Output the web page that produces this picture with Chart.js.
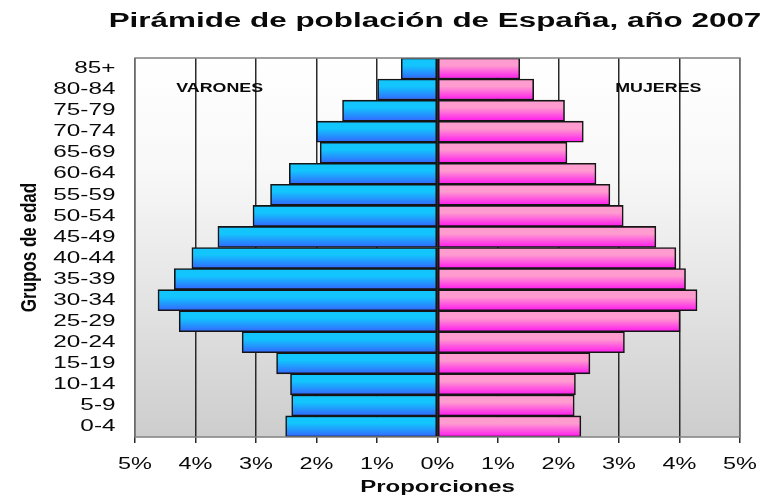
<!DOCTYPE html>
<html>
<head>
<meta charset="utf-8">
<title>Pirámide de población de España, año 2007</title>
<script src="https://cdn.jsdelivr.net/npm/chart.js@4"></script>
<style>
  body { margin: 0; background: #fff; }
</style>
</head>
<body>
<canvas id="pyramid" width="776" height="497"></canvas>
<script>
// Age groups, youngest first
const ageGroups = ['0-4', '5-9', '10-14', '15-19', '20-24', '25-29', '30-34', '35-39', '40-44',
  '45-49', '50-54', '55-59', '60-64', '65-69', '70-74', '75-79', '80-84', '85+'];

// Share of the total population in each group (%)
const varones = [2.51, 2.41, 2.43, 2.66, 3.23, 4.27, 4.62, 4.35, 4.06,
  3.63, 3.05, 2.76, 2.45, 1.94, 2.00, 1.57, 0.99, 0.60];
const mujeres = [2.37, 2.26, 2.28, 2.52, 3.09, 4.01, 4.29, 4.10, 3.94,
  3.61, 3.07, 2.85, 2.62, 2.14, 2.41, 2.10, 1.59, 1.36];

// Axis range (%) on both sides
const axisMax = 5;

// vertical gradient inside every single bar
function barGradient(top, bottom) {
  return function (ctx) {
    const chart = ctx.chart;
    const area = chart.chartArea;
    if (!area || ctx.type !== 'data') return bottom;
    const center = chart.scales.y.getPixelForValue(ctx.dataIndex);
    const half = (area.bottom - area.top) / ageGroups.length / 2;
    const g = chart.ctx.createLinearGradient(0, center - half, 0, center + half);
    g.addColorStop(0, top);
    g.addColorStop(0.35, top);
    g.addColorStop(1, bottom);
    return g;
  };
}

// text stretched wider, like the original picture
function wideText(c, text, x, y, font, sx, sy, align, rotate) {
  c.save();
  c.translate(x, y);
  if (rotate) c.rotate(-Math.PI / 2);
  c.scale(sx, sy);
  c.font = font;
  c.fillStyle = '#0a0a0a';
  c.textAlign = align || 'center';
  c.textBaseline = 'middle';
  c.fillText(text, 0, 0);
  c.restore();
}

const tickFont = '17px "Liberation Sans", Arial, sans-serif';

const pyramidDecor = {
  id: 'pyramidDecor',
  beforeDraw(chart) {
    const c = chart.ctx;
    const a = chart.chartArea;
    const g = c.createLinearGradient(0, a.top, 0, a.bottom);
    g.addColorStop(0, '#ffffff');
    g.addColorStop(0.3, '#f8f8f8');
    g.addColorStop(1, '#cdcdcd');
    c.save();
    c.fillStyle = g;
    c.fillRect(a.left, a.top, a.right - a.left, a.bottom - a.top);
    c.restore();
  },
  afterDatasetsDraw(chart) {
    const c = chart.ctx;
    const a = chart.chartArea;
    const x = chart.scales.x;
    const y = chart.scales.y;
    c.save();
    c.strokeStyle = '#808080';
    c.lineWidth = 1.5;
    c.strokeRect(a.left, a.top, a.right - a.left, a.bottom - a.top);
    c.restore();

    const row = y.getPixelForValue(ageGroups.indexOf('80-84')) - 1.5;
    wideText(c, 'VARONES', x.getPixelForValue(-3.6), row, 'bold 13.5px "Liberation Sans", Arial', 1.32, 1);
    wideText(c, 'MUJERES', x.getPixelForValue(3.65), row, 'bold 13.5px "Liberation Sans", Arial', 1.32, 1);
  },
  afterDraw(chart) {
    const c = chart.ctx;
    const a = chart.chartArea;
    const x = chart.scales.x;
    const y = chart.scales.y;

    // tick labels, placed by the scales
    y.ticks.forEach((t, i) => {
      wideText(c, t.label, a.left - 19.5, y.getPixelForTick(i), tickFont, 1.43, 1, 'right');
    });
    x.ticks.forEach((t, i) => {
      wideText(c, t.label, x.getPixelForTick(i), 464, tickFont, 1.38, 1);
    });

    wideText(c, 'Pirámide de población de España, año 2007', 435, 21, 'bold 20px "Liberation Sans", Arial', 1.57, 1);
    wideText(c, 'Proporciones', (a.left + a.right) / 2, 488, 'bold 16px "Liberation Sans", Arial', 1.5, 1);
    wideText(c, 'Grupos de edad', 30, (a.top + a.bottom) / 2, 'bold 17px "Liberation Sans", Arial', 1, 1.3, 'center', true);
  }
};

new Chart(document.getElementById('pyramid'), {
  type: 'bar',
  data: {
    labels: ageGroups,
    datasets: [{
      label: 'Varones',
      data: varones.map(v => -v),
      backgroundColor: barGradient('#12c6fd', '#3366ff'),
      borderColor: '#151515',
      borderWidth: 1.6,
      borderSkipped: false
    }, {
      label: 'Mujeres',
      data: mujeres,
      backgroundColor: barGradient('#ff9ccf', '#ff18ee'),
      borderColor: '#151515',
      borderWidth: 1.6,
      borderSkipped: false
    }]
  },
  options: {
    indexAxis: 'y',
    responsive: false,
    animation: false,
    layout: { padding: { top: 58, right: 36, bottom: 0, left: 0 } },
    categoryPercentage: 1,
    barPercentage: 1,
    plugins: {
      legend: { display: false },
      tooltip: {
        callbacks: {
          label: item => item.dataset.label + ': ' + Math.abs(item.raw) + '%'
        }
      }
    },
    scales: {
      x: {
        stacked: true,
        min: -axisMax,
        max: axisMax,
        afterFit: s => { s.height = 60; },
        ticks: {
          stepSize: 1,
          color: 'rgba(0,0,0,0)',
          callback: v => Math.abs(v) + '%'
        },
        grid: { color: '#2a2a2a', lineWidth: 1.5, tickLength: 6 },
        border: { display: false }
      },
      y: {
        stacked: true,
        reverse: true,
        afterFit: s => { s.width = 135; },
        ticks: { autoSkip: false, color: 'rgba(0,0,0,0)' },
        grid: { display: false, drawTicks: false },
        border: { display: false }
      }
    }
  },
  plugins: [pyramidDecor]
});
</script>
</body>
</html>
